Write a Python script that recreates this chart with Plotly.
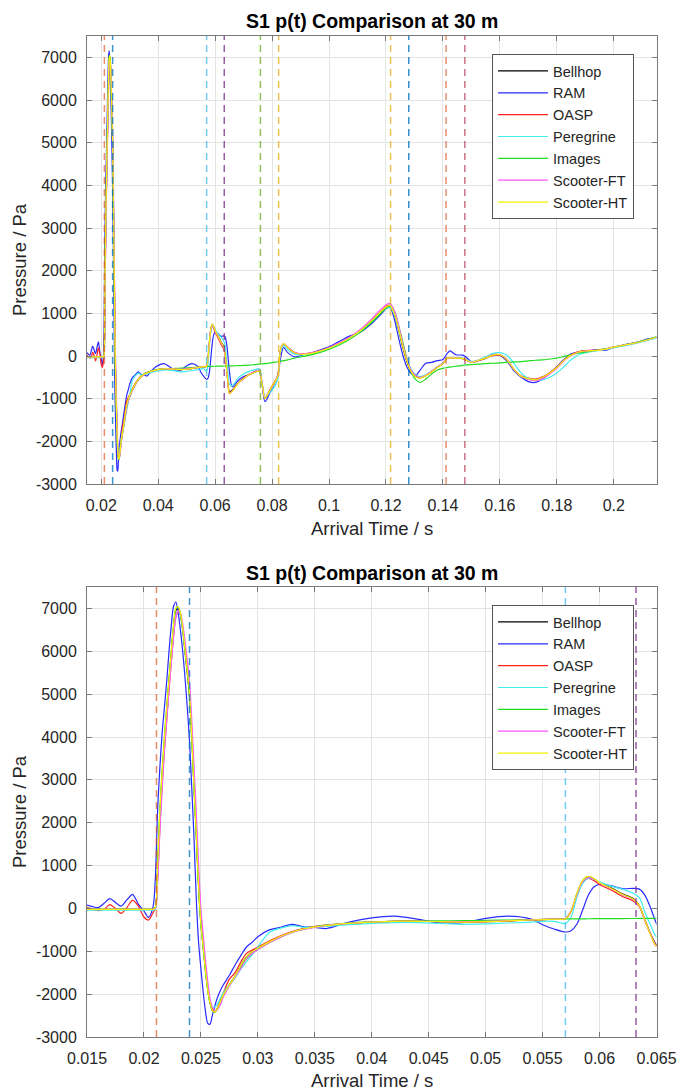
import plotly.graph_objects as go

# ---------------- data ----------------
t = [
    0.0150, 0.0155, 0.0160, 0.0165, 0.0170, 0.0175, 0.0180, 0.0185, 0.0190, 0.0195, 0.0200, 0.0204, 0.0208,
    0.0210, 0.0212, 0.0214, 0.0216, 0.0218, 0.0220, 0.0222, 0.0224, 0.0226, 0.0228,
    0.0230, 0.0232, 0.0234, 0.0236, 0.0238, 0.0240, 0.0242, 0.0244, 0.0246, 0.0248,
    0.0250, 0.0252, 0.0254, 0.0256, 0.0258, 0.0260, 0.0262, 0.0264, 0.0267, 0.0270,
    0.0275, 0.0280, 0.0285, 0.0290, 0.0295, 0.0300, 0.0310, 0.0320, 0.0330, 0.0340,
    0.0350, 0.0360, 0.0380, 0.0400, 0.0420, 0.0440, 0.0460, 0.0480, 0.0500, 0.0520,
    0.0540, 0.0550, 0.0560, 0.0570, 0.0575, 0.0580, 0.0585, 0.0590, 0.0595, 0.0600,
    0.0610, 0.0620, 0.0630, 0.0635, 0.0640, 0.0645, 0.0650, 0.0660, 0.0680, 0.0700,
    0.0720, 0.0740, 0.0755, 0.0765, 0.0775, 0.0790, 0.0810, 0.0820, 0.0830, 0.0840,
    0.0855, 0.0880, 0.0910, 0.0950, 0.0990, 0.1030, 0.1070, 0.1110, 0.1150, 0.1180,
    0.1205, 0.1215, 0.1230, 0.1245, 0.1260, 0.1275, 0.1290, 0.1305, 0.1320, 0.1340,
    0.1360, 0.1380, 0.1400, 0.1415, 0.1425, 0.1445, 0.1470, 0.1480, 0.1500, 0.1525,
    0.1550, 0.1575, 0.1600, 0.1625, 0.1650, 0.1675, 0.1700, 0.1725, 0.1750, 0.1775,
    0.1800, 0.1825, 0.1850, 0.1880, 0.1910, 0.1940, 0.1970, 0.2000, 0.2040, 0.2080,
    0.2120, 0.2150,
]

bellhop = [
    -20, -20, -20, -20, -20, -20, -20, -20, -20, -20, -20, -20, -20,
    20, 900, 2200, 3100, 3900, 4600, 5300, 5950, 6550, 6950,
    7000, 6850, 6500, 6000, 5500, 4950, 4000, 2800, 1700, 500,
    -350, -900, -1450, -1900, -2200, -2380, -2420, -2360, -2180, -2000,
    -1780, -1580, -1330, -1130, -1010, -930, -780, -650, -550, -480,
    -430, -400, -350, -320, -300, -300, -310, -320, -310, -290,
    -270, -260, -250, -240, -60, 330, 640, 740, 690, 600,
    480, 340, 220, 60, -280, -600, -840, -800, -640, -520,
    -440, -380, -350, -660, -1000, -830, -600, -480, 150, 280,
    200, 70, 40, 80, 160, 270, 410, 590, 830, 1020,
    1150, 1160, 960, 600, 180, -160, -390, -480, -510, -450,
    -360, -260, -170, -40, -40, -50, -60, -90, -150, -100,
    -50, 20, 20, -100, -330, -480, -540, -560, -500, -400,
    -270, -100, 20, 100, 120, 130, 160, 210, 260, 310,
    380, 440,
]

ram = [
    80, 40, 20, 120, 230, 140, 55, 200, 330, 100, -60, -210, 40,
    700, 2300, 3300, 4100, 4700, 5300, 6000, 6600, 7050, 7150,
    6900, 6500, 6000, 5400, 4700, 3900, 2800, 1600, 200, -800,
    -1400, -1950, -2400, -2680, -2700, -2500, -2300, -2120, -1920, -1770,
    -1560, -1320, -1100, -900, -790, -660, -500, -440, -370, -430,
    -440, -470, -320, -220, -180, -250, -340, -330, -230, -180,
    -250, -380, -480, -550, -520, -370, -50, 300, 500, 560,
    530, 460, 470, 450, 300, 0, -350, -720, -580, -480,
    -440, -360, -330, -680, -1070, -900, -620, -450, -50, 200,
    80, -20, 30, 100, 190, 320, 460, 560, 760, 960,
    1130, 1130, 850, 400, 0, -280, -420, -450, -330, -170,
    -150, -110, -80, 60, 120, 30, 20, -20, -130, -100,
    -60, 40, 20, -120, -350, -500, -600, -620, -540, -400,
    -250, -80, 50, 100, 120, 150, 130, 200, 270, 320,
    400, 440,
]

oasp = [
    20, -20, -50, -20, 90, 0, -115, 20, 190, 60, -200, -270, -100,
    0, 700, 1900, 2900, 3700, 4400, 5100, 5750, 6350, 6800,
    6930, 6850, 6550, 6100, 5600, 5000, 4100, 3000, 1900, 700,
    -200, -800, -1350, -1800, -2150, -2350, -2400, -2350, -2150, -1950,
    -1650, -1500, -1250, -1050, -970, -900, -760, -640, -540, -470,
    -420, -390, -350, -320, -300, -300, -310, -320, -310, -290,
    -270, -260, -250, -240, -70, 300, 600, 700, 650, 560,
    430, 280, 170, 40, -300, -620, -880, -820, -640, -520,
    -430, -370, -340, -650, -990, -820, -590, -470, 140, 270,
    200, 80, 50, 90, 170, 280, 420, 600, 840, 1040,
    1180, 1190, 1000, 650, 220, -130, -380, -480, -510, -460,
    -370, -270, -180, -50, -40, -50, -60, -90, -150, -110,
    -50, 10, 20, -90, -320, -470, -520, -540, -490, -390,
    -260, -100, 30, 110, 130, 140, 160, 210, 260, 310,
    380, 440,
]

peregrine = [
    -40, -40, -40, -40, -40, -40, -40, -40, -40, -40, -40, -40, -40,
    -20, 700, 2000, 3000, 3800, 4500, 5200, 5850, 6450, 6850,
    6950, 6850, 6500, 6050, 5600, 5000, 4100, 2900, 1800, 600,
    -300, -850, -1400, -1850, -2150, -2300, -2300, -2250, -2100, -1950,
    -1780, -1620, -1420, -1250, -1080, -900, -560, -460, -400, -440,
    -440, -420, -380, -350, -330, -330, -350, -370, -360, -340,
    -320, -300, -300, -350, -200, 250, 580, 700, 680, 620,
    520, 450, 350, 250, -100, -400, -660, -700, -520, -420,
    -360, -320, -300, -620, -960, -880, -700, -550, 100, 250,
    150, 40, 30, 70, 150, 260, 400, 580, 810, 1000,
    1130, 1140, 960, 620, 230, -100, -330, -440, -480, -440,
    -360, -260, -170, -40, -40, -40, -50, -80, -130, -90,
    -20, 60, 80, 20, -180, -400, -520, -560, -560, -500,
    -400, -250, -90, 40, 90, 120, 150, 190, 240, 300,
    370, 420,
]

images = [
    -20, -20, -20, -20, -20, -20, -20, -20, -20, -20, -20, -20, -20,
    20, 1000, 2300, 3200, 4000, 4700, 5350, 6000, 6600, 7000,
    7040, 6900, 6550, 6050, 5550, 4950, 4000, 2800, 1700, 500,
    -350, -900, -1450, -1900, -2200, -2380, -2420, -2360, -2200, -2020,
    -1800, -1600, -1380, -1180, -1050, -960, -800, -670, -560, -490,
    -430, -390, -340, -315, -300, -295, -290, -285, -280, -270,
    -260, -255, -250, -245, -244, -243, -242, -241, -240, -240,
    -238, -236, -235, -234, -233, -232, -231, -230, -227, -222,
    -215, -200, -190, -185, -178, -165, -145, -135, -125, -110,
    -90, -50, -10, 50, 130, 240, 380, 560, 790, 990,
    1140, 1170, 1050, 700, 300, -100, -400, -560, -620, -540,
    -420, -330, -290, -270, -260, -240, -220, -210, -200, -190,
    -180, -170, -160, -150, -140, -130, -115, -100, -90, -70,
    -50, -10, 30, 70, 100, 140, 170, 210, 260, 320,
    390, 450,
]

scooter_ft = [
    -20, -20, -20, -20, -20, -20, -20, -20, -20, -20, -20, -20, -20,
    0, 600, 1800, 2800, 3700, 4400, 5100, 5750, 6350, 6800,
    6950, 6900, 6650, 6250, 5800, 5300, 4400, 3300, 2200, 1000,
    0, -600, -1200, -1700, -2100, -2300, -2380, -2380, -2250, -2050,
    -1800, -1600, -1400, -1180, -1050, -960, -800, -670, -560, -490,
    -440, -400, -350, -320, -300, -300, -305, -310, -300, -285,
    -265, -255, -245, -235, -50, 310, 620, 720, 680, 590,
    460, 320, 200, 50, -290, -610, -860, -820, -650, -530,
    -440, -370, -340, -640, -990, -840, -610, -480, 150, 290,
    210, 80, 50, 90, 170, 290, 430, 620, 870, 1080,
    1220, 1230, 1050, 700, 250, -100, -350, -460, -500, -450,
    -360, -260, -170, -40, -40, -50, -60, -90, -150, -100,
    -40, 30, 30, -80, -320, -480, -550, -580, -530, -420,
    -290, -110, 10, 100, 120, 130, 160, 210, 260, 310,
    380, 440,
]

scooter_ht = [
    -20, -20, -20, -20, -20, -20, -20, -20, -20, -20, -20, -20, -20,
    20, 950, 2300, 3200, 4000, 4700, 5350, 6000, 6600, 7000,
    7040, 6900, 6550, 6050, 5550, 5000, 4000, 2800, 1700, 500,
    -350, -900, -1450, -1900, -2200, -2380, -2420, -2360, -2180, -2000,
    -1780, -1580, -1330, -1130, -1010, -930, -780, -650, -550, -480,
    -430, -400, -350, -320, -300, -300, -310, -320, -310, -290,
    -270, -260, -250, -240, -60, 340, 650, 750, 700, 600,
    470, 330, 210, 60, -290, -620, -880, -830, -650, -530,
    -440, -380, -350, -660, -1000, -830, -600, -480, 160, 290,
    200, 70, 40, 80, 160, 270, 410, 590, 830, 1030,
    1170, 1180, 980, 620, 200, -150, -390, -490, -520, -460,
    -370, -270, -180, -50, -45, -50, -60, -90, -150, -100,
    -50, 20, 30, -90, -320, -480, -530, -560, -500, -400,
    -270, -100, 20, 100, 120, 130, 160, 210, 260, 310,
    380, 440,
]

series_names = ["Bellhop", "RAM", "OASP", "Peregrine", "Images", "Scooter-FT", "Scooter-HT"]
series_values = [bellhop, ram, oasp, peregrine, images, scooter_ft, scooter_ht]
series_colors = ["#000000", "#2a2aff", "#ff2020", "#40eeee", "#22dd22", "#ff55ff", "#f2f200"]

arrival_times = [0.0211, 0.0240, 0.0570, 0.0632, 0.0759, 0.0823, 0.1216, 0.1280, 0.1411, 0.1477]
arrival_colors = [
    "rgba(217,83,25,0.65)", "rgba(0,114,189,0.75)", "rgba(77,190,238,0.8)", "rgba(126,47,142,0.8)",
    "rgba(119,172,48,0.8)", "rgba(237,177,32,0.8)", "rgba(237,177,32,0.8)", "rgba(0,114,189,0.8)",
    "rgba(217,83,25,0.65)", "rgba(162,20,47,0.6)",
]

x_ticks_top = [0.02, 0.04, 0.06, 0.08, 0.10, 0.12, 0.14, 0.16, 0.18, 0.20]
x_labels_top = ["0.02", "0.04", "0.06", "0.08", "0.1", "0.12", "0.14", "0.16", "0.18", "0.2"]
x_ticks_bot = [0.015, 0.02, 0.025, 0.03, 0.035, 0.04, 0.045, 0.05, 0.055, 0.06, 0.065]
x_labels_bot = ["0.015", "0.02", "0.025", "0.03", "0.035", "0.04", "0.045", "0.05", "0.055", "0.06", "0.065"]
y_ticks = [-3000, -2000, -1000, 0, 1000, 2000, 3000, 4000, 5000, 6000, 7000]
y_labels = ["-3000", "-2000", "-1000", "0", "1000", "2000", "3000", "4000", "5000", "6000", "7000"]

x_range_top = [0.015, 0.215]
x_range_bot = [0.015, 0.065]
y_range = [-3000, 7500]

title_text = "S1 p(t) Comparison at 30 m"
x_title = "Arrival Time / s"
y_title = "Pressure / Pa"

# ---------------- figure ----------------
W, H = 679, 1090
FONT = "Liberation Sans, Arial, Helvetica, sans-serif"
TXT = "#262626"


def px(xp):
    return xp / W


def py(yp):
    return 1 - yp / H


fig = go.Figure()

for axn, leg in (("", "legend"), ("2", "legend2")):
    for name, vals, col in zip(series_names, series_values, series_colors):
        fig.add_trace(go.Scatter(
            x=t, y=vals, name=name, mode="lines",
            line=dict(color=col, width=1.2, shape="spline", smoothing=0.8),
            xaxis="x" + axn, yaxis="y" + axn, legend=leg,
        ))

for axn in ("", "2"):
    for at, ac in zip(arrival_times, arrival_colors):
        fig.add_shape(type="line", xref="x" + axn, yref="y" + axn + " domain",
                      x0=at, x1=at, y0=0, y1=1,
                      line=dict(color=ac, width=1.5, dash="7px,5px"))

axis_common = dict(
    showline=True, linecolor="#7a7a7a", linewidth=1, mirror="ticks",
    ticks="inside", ticklen=5, tickcolor="#7a7a7a",
    showgrid=True, gridcolor="#e4e4e4", gridwidth=1, zeroline=False,
    tickfont=dict(family=FONT, size=16, color=TXT), automargin=False,
)

top_dom_y = [py(484), py(36)]
bot_dom_y = [py(1037), py(587)]
dom_x = [px(87), px(656.5)]

legend_common = dict(xanchor="left", yanchor="top",
                     bgcolor="white", bordercolor="#555555", borderwidth=1,
                     font=dict(family=FONT, size=14.5, color=TXT), itemwidth=50, tracegroupgap=0)

fig.update_layout(
    width=W, height=H,
    margin=dict(l=0, r=0, t=0, b=0, pad=0, autoexpand=False),
    paper_bgcolor="white", plot_bgcolor="white",
    font=dict(family=FONT, color=TXT),
    xaxis=dict(domain=dom_x, range=x_range_top, tickvals=x_ticks_top, ticktext=x_labels_top,
               anchor="y", ticklabelstandoff=7, **axis_common),
    yaxis=dict(domain=top_dom_y, range=y_range, tickvals=y_ticks, ticktext=y_labels,
               anchor="x", ticklabelstandoff=6, **axis_common),
    xaxis2=dict(domain=dom_x, range=x_range_bot, tickvals=x_ticks_bot, ticktext=x_labels_bot,
                anchor="y2", ticklabelstandoff=7, **axis_common),
    yaxis2=dict(domain=bot_dom_y, range=y_range, tickvals=y_ticks, ticktext=y_labels,
                anchor="x2", ticklabelstandoff=6, **axis_common),
    legend=dict(x=px(492), y=py(54), **legend_common),
    legend2=dict(x=px(492), y=py(605), **legend_common),
    showlegend=True,
)

cx = (87 + 656.5) / 2
annots = [
    (cx, 21.5, title_text, 19.5, True, 0),
    (cx, 572.5, title_text, 19.5, True, 0),
    (cx, 528, x_title, 18.5, False, 0),
    (cx, 1080, x_title, 18.5, False, 0),
    (19, 260, y_title, 18.5, False, -90),
    (19, 812, y_title, 18.5, False, -90),
]
for xx, yy, txt, sz, bold, ang in annots:
    fig.add_annotation(
        x=px(xx), y=py(yy), xref="paper", yref="paper", showarrow=False,
        text=("<b>%s</b>" % txt) if bold else txt, textangle=ang,
        xanchor="center", yanchor="middle",
        font=dict(family=FONT, size=sz, color=("#000000" if bold else TXT)),
    )

fig.write_html("out.html")
